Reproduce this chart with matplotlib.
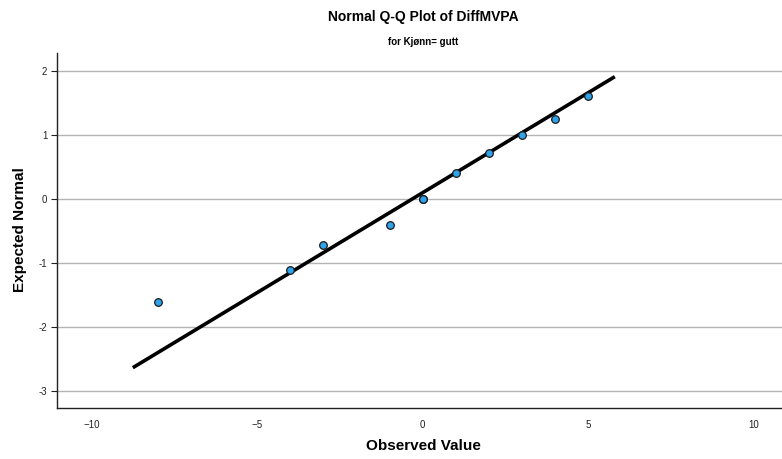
import matplotlib
matplotlib.use("Agg")
import matplotlib.pyplot as plt

plt.rcParams['font.family'] = ['Liberation Sans', 'DejaVu Sans']

# Observed values and their expected normal scores
observed = [-8, -4, -3, -1, 0, 0, 1, 2, 3, 4, 5]
expected = [-1.61, -1.11, -0.72, -0.41, 0.0, 0.0, 0.41, 0.72, 1.0, 1.25, 1.61]

# Reference line end points
line_x = [-8.76, 5.8]
line_y = [-2.64, 1.91]

x_ticks = [-10, -5, 0, 5, 10]
y_ticks = [-3, -2, -1, 0, 1, 2]

fig = plt.figure(figsize=(7.82, 4.59), dpi=100)
ax = fig.add_axes([57 / 782, (459 - 408) / 459, (782 - 57) / 782, (408 - 53) / 459])

ax.set_xlim(-11.05, 10.85)
ax.set_ylim(-3.27, 2.28)

for yt in y_ticks:
    ax.axhline(yt, color='#b4b4b4', linewidth=1.0, zorder=1)

ax.plot(line_x, line_y, color='black', linewidth=2.6, zorder=2, solid_capstyle='butt')
ax.scatter(observed, expected, s=30, facecolor='#2ea3ea', edgecolor='#1a1a1a',
           linewidth=0.9, zorder=3)

ax.set_xticks(x_ticks)
ax.set_yticks(y_ticks)
ax.set_xticklabels([str(v).replace('-', '\u2212') for v in x_ticks])
ax.set_yticklabels([str(v) for v in y_ticks])
ax.tick_params(axis='x', length=0, labelsize=7, pad=9, colors='#222222')
ax.tick_params(axis='y', length=4, width=0.8, labelsize=7, pad=3, colors='#222222')

for side in ('top', 'right'):
    ax.spines[side].set_visible(False)
for side in ('left', 'bottom'):
    ax.spines[side].set_color('#222222')
    ax.spines[side].set_linewidth(1.0)

ax.set_xlabel('Observed Value', fontsize=11, fontweight='bold')
ax.set_ylabel('Expected Normal', fontsize=11, fontweight='bold')
ax.xaxis.set_label_coords((423 - 57) / (782 - 57), -(439 - 408) / (408 - 53))
ax.yaxis.set_label_coords(-(57 - 27) / (782 - 57), (408 - 230) / (408 - 53))

fig.text(423 / 782, 1 - 17 / 459, 'Normal Q-Q Plot of DiffMVPA',
         ha='center', va='center', fontsize=10, fontweight='bold')
fig.text(423 / 782, 1 - 42 / 459, 'for Kjønn= gutt',
         ha='center', va='center', fontsize=7, fontweight='bold')

fig.savefig('out.png', dpi=100)
